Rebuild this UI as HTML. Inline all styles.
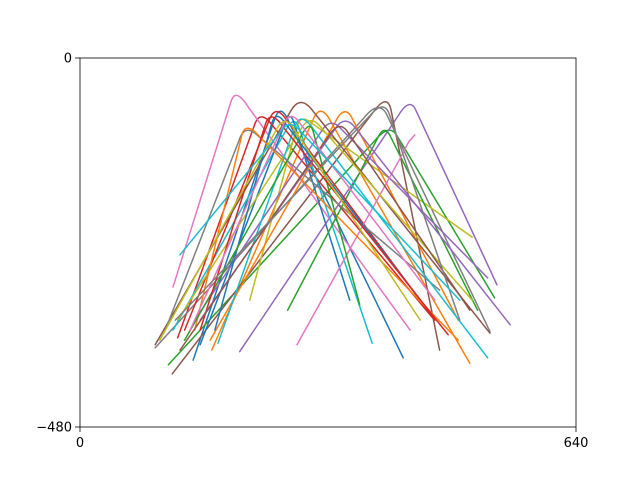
<!DOCTYPE html>
<html><head><meta charset="utf-8"><style>
body{margin:0;background:#fff}
svg{display:block;font-family:"DejaVu Sans","Liberation Sans",sans-serif}
</style></head><body>
<svg id="chart" width="640" height="480">
<rect x="0" y="0" width="640" height="480" fill="#fff"/>
<g id="lines"></g>
<rect x="80" y="58" width="496" height="369" fill="none" stroke="#000" stroke-width="0.8"/>
<g id="axes"></g>
</svg>
<script>
const startX=[146,170,114,126,206,119,120,97,219,120,155,168,268,135,148,97,280,110,126,178,174,148,135,155,155,129,142,123,103,129];
const startY=[-393,-380,-399,-364,-382,-411,-298,-377,-315,-354,-373,-367,-328,-354,-341,-373,-373,-354,-341,-371,-354,-354,-367,-354,-341,-380,-354,-341,-367,-256];
const peakX=[258,310,400,232,426,397,200,387,284,277,271,342,393,252,323,284,426,213,297,284,252,213,297,245,342,335,271,393,264,271];
const peakY=[-59,-59,-86,-68,-52,-46,-40,-55,-74,-74,-68,-61,-87,-61,-78,-48,-107,-87,-74,-70,-68,-83,-81,-68,-74,-81,-68,-55,-74,-81];
const endX=[417,503,535,455,538,464,426,529,506,377,348,488,513,458,526,529,432,464,506,526,439,488,361,475,555,503,458,490,439,490];
const endY=[-390,-397,-312,-338,-295,-380,-354,-356,-233,-371,-315,-341,-328,-341,-286,-358,-100,-302,-315,-390,-315,-367,-321,-360,-347,-328,-315,-341,-341,-315];
const xTicks=[0,640];
const yTicks=[0,-480];
const colors=["#1f77b4","#ff7f0e","#2ca02c","#d62728","#9467bd","#8c564b","#e377c2","#7f7f7f","#bcbd22","#17becf"];
function sx(v){return 80+(v-0)/640*496;}
function sy(v){return 58+(0-v)/480*369;}
const NS="http://www.w3.org/2000/svg";
const g=document.getElementById('lines');
for(let i=0;i<startX.length;i++){
  const s=[sx(startX[i]),sy(startY[i])],p=[sx(peakX[i]),sy(peakY[i])],e=[sx(endX[i]),sy(endY[i])];
  const a=[p[0]+(s[0]-p[0])*0.07,p[1]+(s[1]-p[1])*0.07];
  const b=[p[0]+(e[0]-p[0])*0.07,p[1]+(e[1]-p[1])*0.07];
  const c=[p[0],p[1]-2];
  const path=document.createElementNS(NS,'path');
  path.setAttribute('d',`M${s[0]},${s[1]} L${a[0]},${a[1]} Q${c[0]},${c[1]} ${b[0]},${b[1]} L${e[0]},${e[1]}`);
  path.setAttribute('fill','none');
  path.setAttribute('stroke',colors[i%10]);
  path.setAttribute('stroke-width','1.5');
  path.setAttribute('stroke-linecap','round');
  
  
  g.appendChild(path);
}
const ax=document.getElementById('axes');
xTicks.forEach(t=>{
  const l=document.createElementNS(NS,'line');
  l.setAttribute('x1',sx(t));l.setAttribute('x2',sx(t));l.setAttribute('y1',427);l.setAttribute('y2',432);
  l.setAttribute('stroke','#000');l.setAttribute('stroke-width','0.8');
  
  
  ax.appendChild(l);
  const tx=document.createElementNS(NS,'text');
  tx.setAttribute('x',sx(t));tx.setAttribute('y',447);tx.setAttribute('text-anchor','middle');tx.setAttribute('font-size','13');
  tx.textContent=String(t);
  
  
  ax.appendChild(tx);
});
yTicks.forEach(t=>{
  const l=document.createElementNS(NS,'line');
  l.setAttribute('x1',75);l.setAttribute('x2',80);l.setAttribute('y1',sy(t));l.setAttribute('y2',sy(t));
  l.setAttribute('stroke','#000');l.setAttribute('stroke-width','0.8');
  
  
  ax.appendChild(l);
  const tx=document.createElementNS(NS,'text');
  tx.setAttribute('x',72);tx.setAttribute('y',sy(t)+4.5);tx.setAttribute('text-anchor','end');tx.setAttribute('font-size','13');
  tx.textContent=t<0?'\u2212'+Math.abs(t):String(t);
  
  
  ax.appendChild(tx);
});
</script>
</body></html>
